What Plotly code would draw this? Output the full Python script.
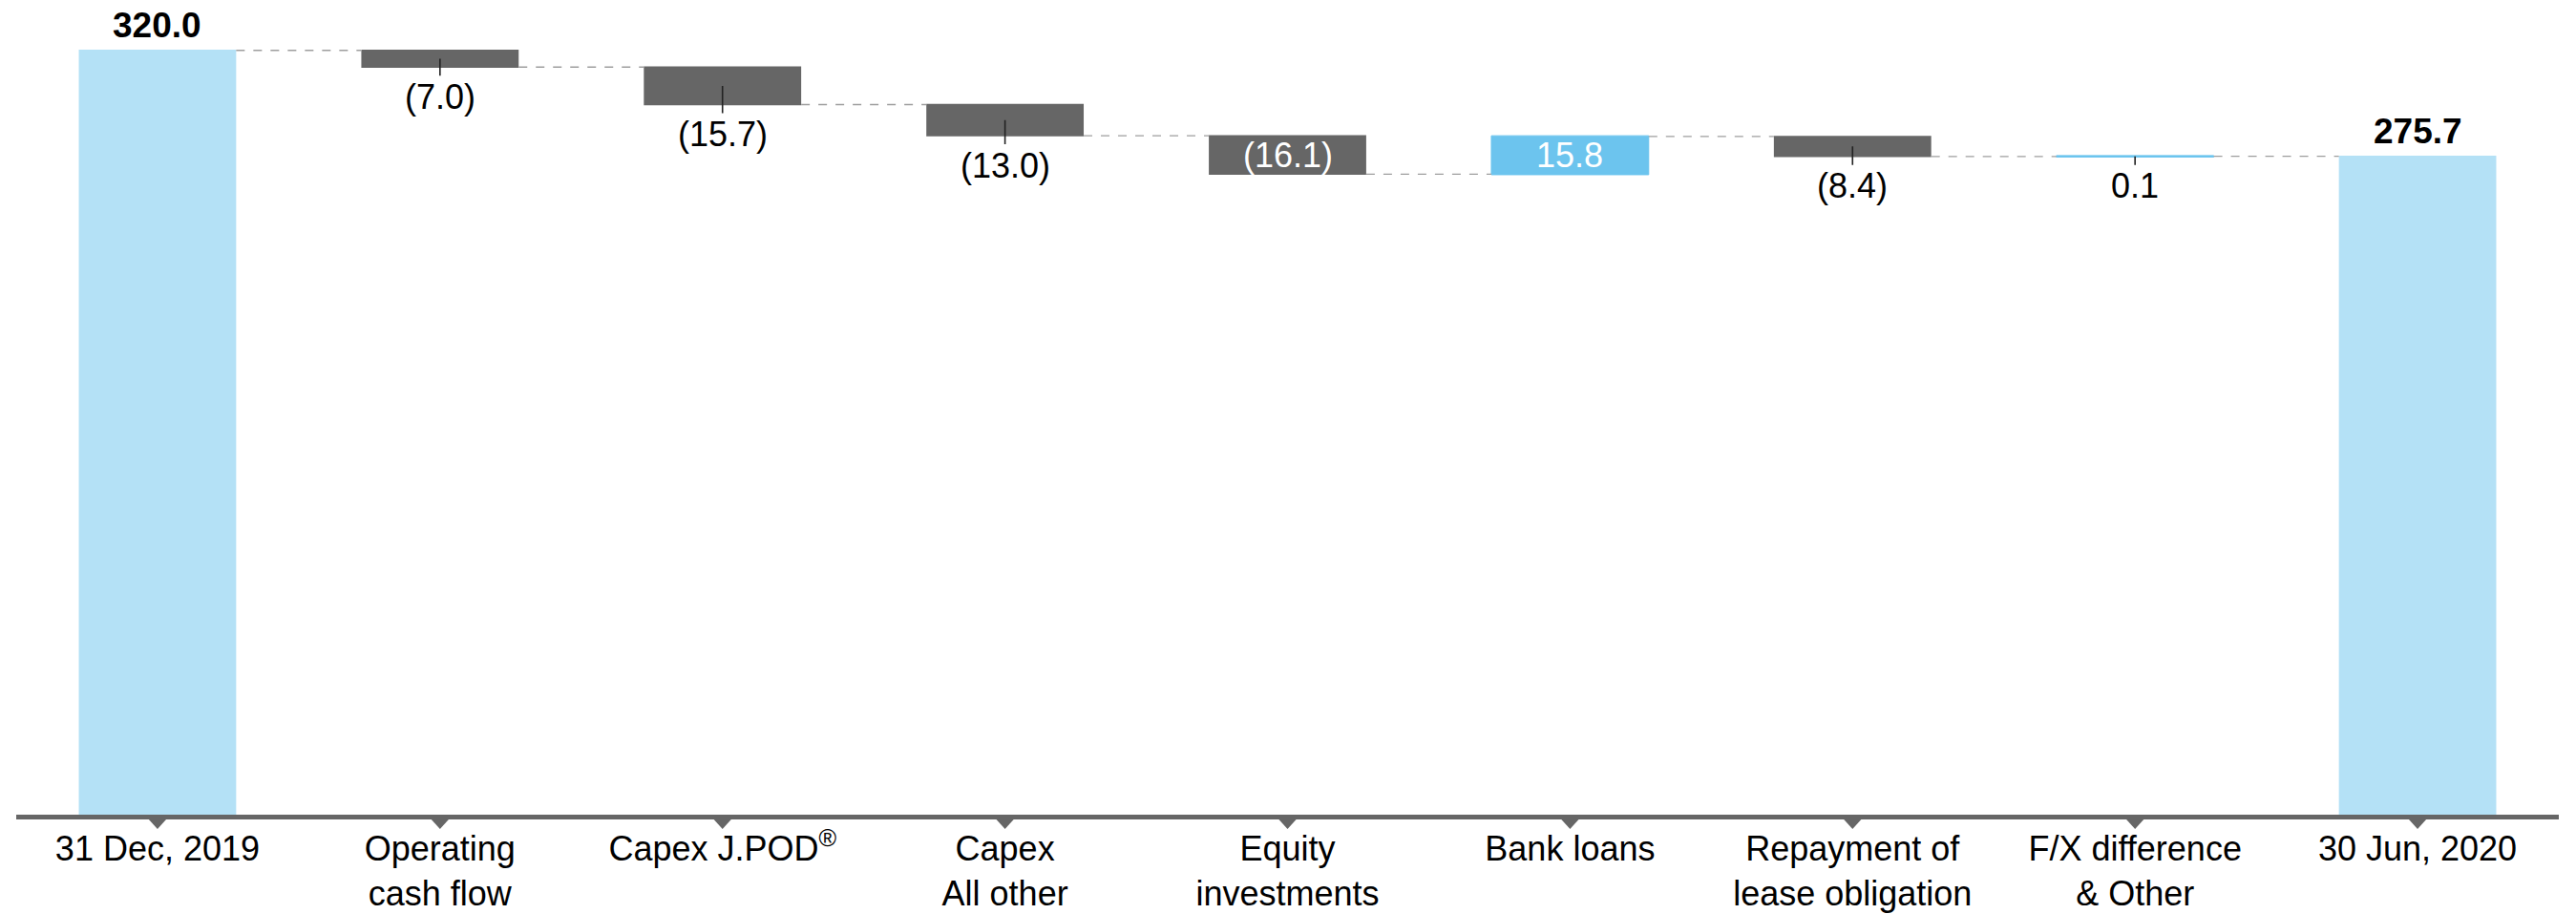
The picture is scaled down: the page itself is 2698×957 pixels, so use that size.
import plotly.graph_objects as go

# ---- data ----
categories = [
    "31 Dec, 2019",
    "Operating<br>cash flow",
    "Capex J.POD<sup>®</sup>",
    "Capex<br>All other",
    "Equity<br>investments",
    "Bank loans",
    "Repayment of<br>lease obligation",
    "F/X difference<br>& Other",
    "30 Jun, 2020",
]
measures = ["absolute", "relative", "relative", "relative", "relative",
            "relative", "relative", "relative", "total"]
values = [320.0, -7.0, -15.7, -13.0, -16.1, 15.8, -8.4, 0.1, 275.7]

# ---- style ----
FONT = "Liberation Sans, Arial, Helvetica, sans-serif"
TOT = "#B4E1F6"
INC = "#6CC4EE"
DEC = "#666666"
AXIS = "#666666"
CONN = "#9e9e9e"
FS = 36
INSIDE_MIN = 15.75

fig = go.Figure()
fig.add_trace(go.Waterfall(
    x=categories, y=values, measure=measures,
    increasing=dict(marker=dict(color=INC, line=dict(color=INC, width=1))),
    decreasing=dict(marker=dict(color=DEC, line=dict(width=0))),
    totals=dict(marker=dict(color=TOT, line=dict(width=0))),
    connector=dict(line=dict(color=CONN, width=1.3, dash="dash"), mode="between"),
    textinfo="none", hoverinfo="skip", showlegend=False,
))


def fmt(v):
    return f"({abs(v):.1f})" if v < 0 else f"{v:.1f}"


annotations = []
level = 0.0
for cat, m, v in zip(categories, measures, values):
    if m == "absolute":
        level = v
        annotations.append(dict(x=cat, y=level, text=f"<b>{v:.1f}</b>", showarrow=False,
                                yanchor="middle", yshift=26,
                                font=dict(family=FONT, size=FS + 1, color="#000")))
        continue
    if m == "total":
        annotations.append(dict(x=cat, y=level, text=f"<b>{level:.1f}</b>", showarrow=False,
                                yanchor="middle", yshift=26,
                                font=dict(family=FONT, size=FS + 1, color="#000")))
        continue
    start, end = level, level + v
    level = end
    lo, mid = min(start, end), (start + end) / 2
    if abs(v) >= INSIDE_MIN:
        annotations.append(dict(x=cat, y=mid, text=fmt(v), showarrow=False,
                                yanchor="middle",
                                font=dict(family=FONT, size=FS, color="#ffffff")))
    else:
        annotations.append(dict(x=cat, y=mid, text=fmt(v), showarrow=True,
                                arrowhead=0, arrowwidth=1.6, arrowcolor="#222",
                                ax=0, ayref="y", ay=lo - 12.4,
                                font=dict(family=FONT, size=FS, color="#000")))

# downward triangles under the axis at each category
for i in range(len(categories)):
    fig.add_shape(type="path", xref="x", yref="paper", xsizemode="pixel", ysizemode="pixel",
                  xanchor=i, yanchor=0, path="M-10,-4 L10,-4 L0,-15 Z",
                  fillcolor=AXIS, line=dict(width=0), layer="above")

fig.update_layout(
    width=2698, height=957,
    margin=dict(l=17, r=18, t=30, b=104, autoexpand=False),
    paper_bgcolor="white", plot_bgcolor="white",
    waterfallgap=0.443,
    font=dict(family=FONT, size=FS, color="#000"),
    annotations=annotations,
    xaxis=dict(showline=True, linecolor=AXIS, linewidth=5, ticks="", automargin=False,
               showgrid=False, zeroline=False, tickfont=dict(family=FONT, size=FS, color="#000"),
               ticklabelstandoff=0, fixedrange=True),
    yaxis=dict(range=[0, 329.1], visible=False, showgrid=False, zeroline=False,
               automargin=False, fixedrange=True),
)

fig.write_html(
    "out.html",
    config={"displayModeBar": False, "staticPlot": True},
    post_script="document.body.style.margin='0';document.body.style.overflow='hidden';",
)
